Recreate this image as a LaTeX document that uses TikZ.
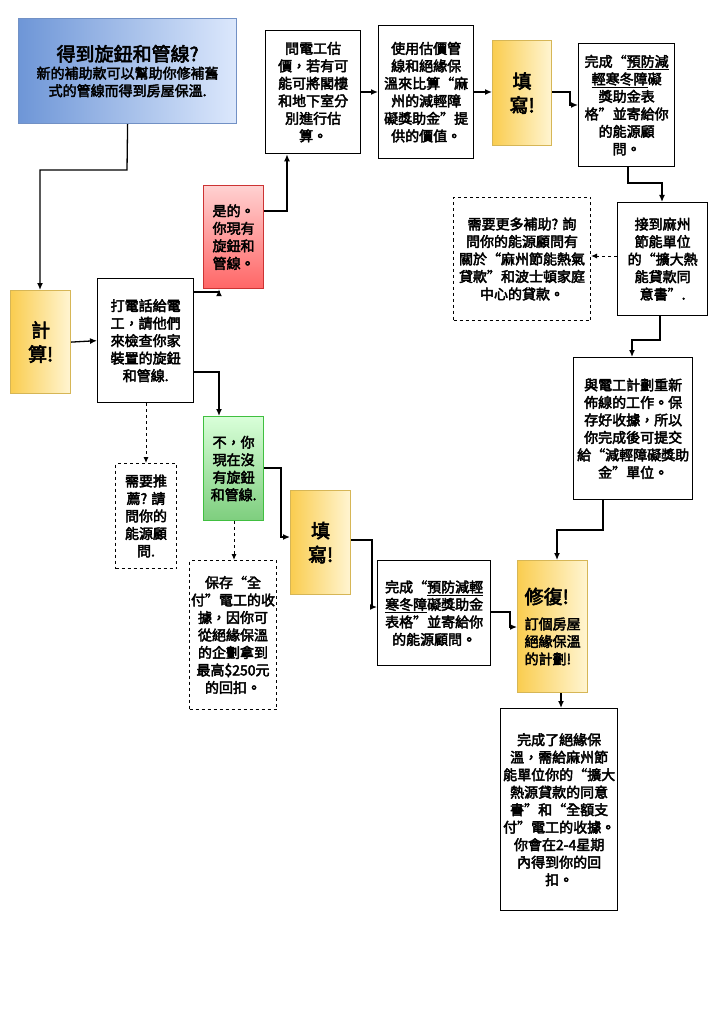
\documentclass[tikz,border=0pt]{standalone}
\usepackage{fontspec}
\usetikzlibrary{arrows.meta}
\setmainfont{Noto Sans CJK TC}[AutoFakeBold=3]
\definecolor{tb}{RGB}{110,150,215}
\definecolor{tbl}{RGB}{220,232,252}
\definecolor{yd}{RGB}{250,205,80}
\definecolor{yl}{RGB}{255,245,210}
\definecolor{yb}{RGB}{214,182,86}
\begin{document}
\begin{tikzpicture}[x=1pt,y=-1pt,
 bx/.style={draw,line width=1.3pt,align=center,inner sep=0.5pt,font=\fontsize{14}{17.5}\selectfont\bfseries},
 dbx/.style={bx,dashed,line width=1pt},
 ybx/.style={bx,draw=yb,left color=yd,right color=yl,line width=1.2pt},
 ar/.style={-{Latex[length=7pt,width=6pt]},line width=1.3pt},
 dar/.style={-{Latex[length=6pt,width=5pt]},line width=1pt,dashed}]
\useasboundingbox (0,0) rectangle (724,1024);
\fill[white] (0,0) rectangle (724,1024);
\node[bx,draw=tb!80!gray,line width=1.2pt,left color=tb,right color=tbl,minimum width=218,minimum height=105,anchor=north west] (title) at (18,18)
 {{\fontsize{19}{23}\selectfont 得到旋鈕和管線?}\\新的補助款可以幫助你修補舊\\式的管線而得到房屋保溫.};
\node[ybx,minimum width=60,minimum height=103,anchor=north west,font=\fontsize{19}{24}\selectfont\bfseries] (calc) at (10,290) {計\\算!};
\node[bx,minimum width=96,minimum height=124,anchor=north west] (call) at (97,278) {打電話給電\\工，請他們\\來檢查你家\\裝置的旋鈕\\和管線.};
\node[bx,draw=red!60!gray,line width=1.2pt,top color=red!18!white,bottom color=red!60!white,minimum width=60,minimum height=103,anchor=north west,align=left] (yes) at (203,185) {是的。\\你現有\\旋鈕和\\管線。};
\node[bx,minimum width=95,minimum height=123,anchor=north west] (ask) at (265,30) {問電工估\\價，若有可\\能可將閣樓\\和地下室分\\別進行估\\算。};
\node[bx,minimum width=95,minimum height=133,anchor=north west] (use) at (378,25) {使用估價管\\線和絕緣保\\溫來比算“麻\\州的減輕障\\礙獎助金”提\\供的價值。};
\node[ybx,minimum width=59,minimum height=105,anchor=north west,font=\fontsize{19}{24}\selectfont\bfseries] (fill1) at (492,40) {填\\寫!};
\node[bx,minimum width=96,minimum height=123,anchor=north west] (done1) at (578,43) {完成“\underline{預防減}\\\underline{輕寒冬障}礙\\獎助金表\\格”並寄給你\\的能源顧\\問。};
\node[bx,minimum width=90,minimum height=113,anchor=north west] (recv) at (617,202) {接到麻州\\節能單位\\的“擴大熱\\能貸款同\\意書”.};
\node[dbx,minimum width=137,minimum height=123,anchor=north west] (more) at (453,197) {需要更多補助? 詢\\問你的能源顧問有\\關於“麻州節能熱氣\\貸款”和波士頓家庭\\中心的貸款。};
\node[bx,minimum width=119,minimum height=142,anchor=north west] (plan) at (573,357) {與電工計劃重新\\佈線的工作。保\\存好收據，所以\\你完成後可提交\\給“減輕障礙獎助\\金”單位。};
\node[bx,draw=green!50!gray,line width=1.2pt,top color=green!15!white,bottom color=green!45!gray!70!white,minimum width=60,minimum height=104,anchor=north west] (no) at (203,416) {不，你\\現在沒\\有旋鈕\\和管線.};
\node[dbx,minimum width=61,minimum height=105,anchor=north west] (ref) at (115,463) {需要推\\薦? 請\\問你的\\能源顧\\問.};
\node[dbx,minimum width=87,minimum height=149,anchor=north west] (save) at (189,560) {保存“全\\付”電工的收\\據，因你可\\從絕緣保溫\\的企劃拿到\\最高\$250元\\的回扣。};
\node[ybx,minimum width=60,minimum height=104,anchor=north west,font=\fontsize{19}{24}\selectfont\bfseries] (fill2) at (290,490) {填\\寫!};
\node[bx,minimum width=113,minimum height=105,anchor=north west] (done2) at (377,560) {完成“\underline{預防減輕}\\\underline{寒冬障}礙獎助金\\表格”並寄給你\\的能源顧問。};
\node[ybx,minimum width=70,minimum height=132,anchor=north west,align=left] (fix) at (517,560) {{\fontsize{19}{24}\selectfont 修復!}\\[8pt]訂個房屋\\絕緣保溫\\的計劃!};
\node[bx,minimum width=117,minimum height=202,anchor=north west] (fin) at (500,708) {完成了絕緣保\\溫，需給麻州節\\能單位你的“擴大\\熱源貸款的同意\\書”和“全額支\\付”電工的收據。\\你會在2-4星期\\內得到你的回\\扣。};
% connectors
\draw[ar] (title.south) -- (127,170) -- (40,170) -- (calc.north -| 40,0);
\draw[ar] (calc.east) -- (call.west);
\draw[ar] (call.east |- 0,292) -- (219,292) -- (yes.south -| 219,0);
\draw[ar] (yes.east |- 0,211) -- (287,211) -- (ask.south -| 287,0);
\draw[ar] (ask.east |- 0,92) -- (use.west |- 0,92);
\draw[ar] (use.east |- 0,92) -- (fill1.west |- 0,92);
\draw[ar] (fill1.east |- 0,92) -- (570,92) -- (570,105) -- (done1.west |- 0,105);
\draw[ar] (done1.south -| 628,0) -- (628,183) -- (662,183) -- (recv.north -| 662,0);
\draw[dar] (recv.west |- 0,256) -- (more.east |- 0,256);
\draw[ar] (recv.south -| 660,0) -- (660,340) -- (632,340) -- (plan.north -| 632,0);
\draw[ar] (call.east |- 0,372) -- (219,372) -- (no.north -| 219,0);
\draw[dar] (call.south -| 146,0) -- (ref.north -| 146,0);
\draw[ar] (no.east |- 0,468) -- (281,468) -- (281,537) -- (fill2.west |- 0,537);
\draw[dar] (no.south -| 234,0) -- (save.north -| 234,0);
\draw[ar] (fill2.east |- 0,540) -- (372,540) -- (372,607) -- (done2.west |- 0,607);
\draw[ar] (done2.east |- 0,612) -- (510,612) -- (510,627) -- (fix.west |- 0,627);
\draw[ar] (plan.south -| 603,0) -- (603,530) -- (557,530) -- (fix.north -| 557,0);
\draw[ar] (fix.south -| 561,0) -- (fin.north -| 561,0);
\end{tikzpicture}
\end{document}
